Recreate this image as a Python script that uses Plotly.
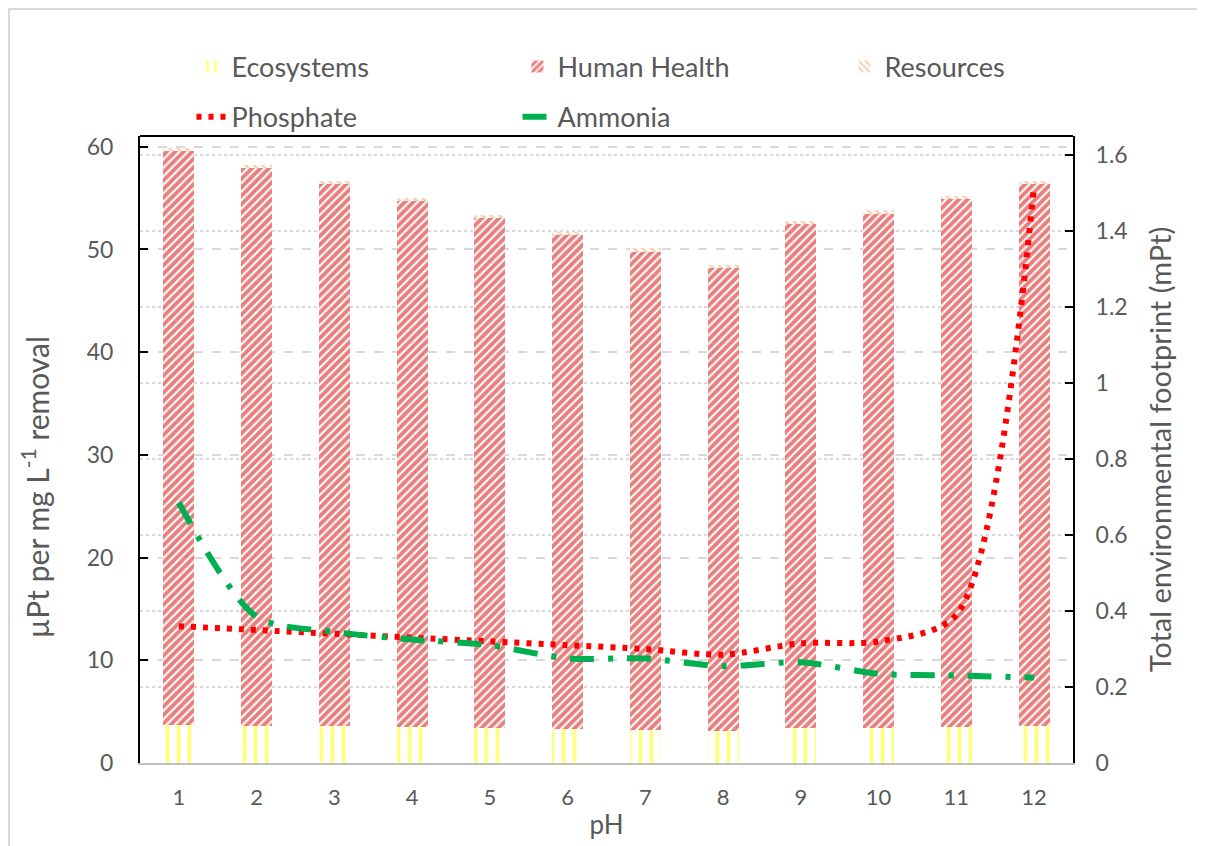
import plotly.graph_objects as go

ph = [1, 2, 3, 4, 5, 6, 7, 8, 9, 10, 11, 12]
ecosystems = [3.7, 3.65, 3.6, 3.5, 3.45, 3.35, 3.25, 3.1, 3.4, 3.45, 3.5, 3.6]
totals = [59.9, 58.2, 56.7, 55.0, 53.4, 51.7, 50.1, 48.5, 52.8, 53.8, 55.2, 56.7]
resources = [0.3] * 12
human_health = [round(t - e - r, 2) for t, e, r in zip(totals, ecosystems, resources)]
phosphate = [0.36, 0.35, 0.34, 0.33, 0.32, 0.31, 0.30, 0.285, 0.315, 0.32, 0.39, 1.52]
ammonia = [0.685, 0.385, 0.345, 0.325, 0.31, 0.275, 0.275, 0.255, 0.265, 0.235, 0.23, 0.225]

FONT = "Lato"
GREY = "#595959"

fig = go.Figure()
fig.add_trace(go.Bar(
    x=ph, y=ecosystems, name="Ecosystems", width=0.4,
    marker=dict(color="white", line=dict(width=0),
                pattern=dict(shape="|", fgcolor="#ffff00", bgcolor="white", size=11, solidity=0.35)),
    legend="legend"))
fig.add_trace(go.Bar(
    x=ph, y=human_health, name="Human Health", width=0.4,
    marker=dict(color="white", line=dict(width=0),
                pattern=dict(shape="/", fgcolor="#d00000", bgcolor="white", size=6, solidity=0.65)),
    legend="legend"))
fig.add_trace(go.Bar(
    x=ph, y=resources, name="Resources", width=0.4,
    marker=dict(color="white", line=dict(width=0),
                pattern=dict(shape="\\", fgcolor="#f4a460", bgcolor="white", size=6, solidity=0.45)),
    legend="legend3"))
fig.add_trace(go.Scatter(
    x=ph, y=phosphate, name="Phosphate", yaxis="y2", mode="lines",
    line=dict(color="#ff0000", width=6, dash="5px,7px", shape="spline", smoothing=0.8),
    legend="legend2"))
fig.add_trace(go.Scatter(
    x=ph, y=ammonia, name="Ammonia", yaxis="y2", mode="lines",
    line=dict(color="#00b050", width=6, dash="24px,14px,5px,14px", shape="spline", smoothing=0.8),
    legend="legend2"))

legend_common = dict(orientation="h", xanchor="left", yanchor="middle", entrywidth=281,
                     traceorder="normal", font=dict(size=27, color=GREY, family=FONT),
                     bgcolor="rgba(0,0,0,0)")

fig.update_layout(
    width=1197, height=838,
    margin=dict(l=132, r=132, t=128, b=83, autoexpand=False),
    paper_bgcolor="white", plot_bgcolor="white",
    barmode="stack", bargap=0.6,
    font=dict(family=FONT, color=GREY, size=20),
    xaxis=dict(
        range=[0.5, 12.5], tickmode="array", tickvals=ph, ticktext=[str(v) for v in ph],
        showline=True, linecolor="#bfbfbf", linewidth=2, ticks="", showgrid=False,
        tickfont=dict(size=22, color=GREY), ticklabelstandoff=14,
        title=dict(text="pH", font=dict(size=26, color=GREY), standoff=6),
        zeroline=False),
    yaxis=dict(
        range=[0, 61.05], tickvals=[0, 10, 20, 30, 40, 50, 60],
        showline=True, linecolor="black", linewidth=2, ticks="inside", ticklen=8, tickwidth=2,
        tickcolor="black", showgrid=True, gridcolor="#d9d9d9", griddash="dash", gridwidth=1.5,
        zeroline=False, tickfont=dict(size=23, color=GREY), ticklabelstandoff=20),
    yaxis2=dict(
        range=[0, 1.65], tickvals=[0, 0.2, 0.4, 0.6, 0.8, 1.0, 1.2, 1.4, 1.6],
        ticktext=["0", "0.2", "0.4", "0.6", "0.8", "1", "1.2", "1.4", "1.6"],
        overlaying="y", side="right",
        showline=True, linecolor="black", linewidth=2, ticks="inside", ticklen=8, tickwidth=2,
        tickcolor="black", showgrid=True, gridcolor="#d9d9d9", griddash="dot", gridwidth=1.5,
        zeroline=False, tickfont=dict(size=23, color=GREY), ticklabelstandoff=16,
        title=dict(text="Total environmental footprint (mPt)", font=dict(size=29, color=GREY), standoff=24)),
    legend=dict(x=0.0552, y=1.110, **legend_common),
    legend3=dict(x=0.755, y=1.110, **legend_common),
    legend2=dict(x=0.0552, y=1.030, **legend_common),
    annotations=[
        dict(text="µPt per mg L<sup>-1</sup> removal", textangle=-90, xref="paper", yref="paper",
             x=-0.1125, y=0.44, xanchor="center", yanchor="middle", showarrow=False,
             font=dict(size=30, color=GREY, family=FONT)),
    ],
    shapes=[
        dict(type="line", xref="paper", yref="paper", x0=0, x1=1, y0=1, y1=1,
             line=dict(color="black", width=2)),
        dict(type="rect", xref="paper", yref="paper", x0=-0.1404, x1=1.136, y0=-0.2, y1=1.2026,
             line=dict(color="#d9d9d9", width=2)),
    ],
)

fig.write_html("out.html")
